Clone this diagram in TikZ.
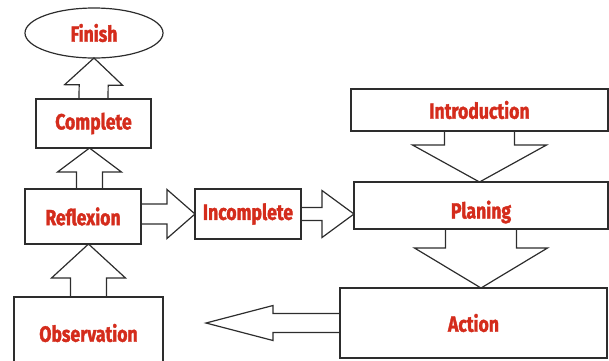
\documentclass[tikz,border=0pt]{standalone}
\usepackage{fontspec}
\newfontfamily\flowfont[FakeStretch=0.8,BoldFeatures={FakeBold=1.6}]{Fira Sans}
\usetikzlibrary{shapes.geometric}
\usetikzlibrary{positioning}
\usetikzlibrary{calc}
\definecolor{labelred}{RGB}{212,44,28}
\definecolor{linegray}{RGB}{45,45,45}
\tikzset{every node/.style={inner sep=0pt, outer sep=0pt}}
\tikzset{stage/.style={rectangle, draw=linegray, line width=1.2pt, text=labelred, font=\flowfont\bfseries\fontsize{22}{22}\selectfont}}
\tikzset{arrowline/.style={draw=linegray, line width=1.2pt, line join=miter}}

% tail, tip, half shaft, half head, head length
\newcommand{\blockarrow}[5]{%
  \coordinate (ba-t) at (#1);
  \coordinate (ba-h) at (#2);
  \coordinate (ba-b) at ($(ba-h)!#5!(ba-t)$);
  \draw[arrowline] ($(ba-t)!#3!90:(ba-h)$) -- ($(ba-b)!#3!90:(ba-h)$) -- ($(ba-b)!#4!90:(ba-h)$) -- (ba-h)
    -- ($(ba-b)!#4!-90:(ba-h)$) -- ($(ba-b)!#3!-90:(ba-h)$) -- ($(ba-t)!#3!-90:(ba-h)$);
}

\begin{document}
\begin{tikzpicture}[x=1pt,y=-1pt]
    \useasboundingbox (0,0) rectangle (609,360);

    \node[stage,ellipse,minimum width=138pt,minimum height=50pt] (finish) at (94,33) {Finish};
    \node[stage,minimum width=115pt,minimum height=49pt] (complete) at (93.5,123.5) {Complete};
    \node[stage,minimum width=116pt,minimum height=55pt] (reflexion) at (83,216.5) {Reflexion};
    \node[stage,minimum width=106pt,minimum height=50pt] (incomplete) at (248,214) {Incomplete};
    \node[stage,minimum width=257pt,minimum height=42pt] (introduction) at (479.5,110) {Introduction};
    \node[stage,minimum width=254pt,minimum height=47pt,text height=30pt,text depth=4pt] (planing) at (481,205.5) {Planing};
    \node[stage,minimum width=267pt,minimum height=70pt] (action) at (473.5,323) {Action};
    \node[stage,minimum width=149pt,minimum height=72pt] (observation) at (88.5,333) {Observation};
    \coordinate (actiontip) at (206,323);

    \blockarrow{complete.north}{finish.south}{14.5pt}{29pt}{27pt}
    \blockarrow{[xshift=-4pt]complete.south |- reflexion.north}{[xshift=-4pt]complete.south}{13pt}{32pt}{24pt}
    \blockarrow{observation.north}{reflexion.south -| observation.north}{18pt}{37pt}{34pt}
    \blockarrow{reflexion.east |- incomplete.west}{incomplete.west}{10pt}{24.5pt}{28pt}
    \blockarrow{incomplete.east}{planing.west |- incomplete.east}{6.5pt}{23.5pt}{32pt}
    \blockarrow{introduction.south}{planing.north -| introduction.south}{35pt}{67pt}{37pt}
    \blockarrow{planing.south}{action.north -| planing.south}{35.5pt}{66.5pt}{40pt}
    \blockarrow{action.west}{actiontip}{9.5pt}{17.5pt}{67pt}

\end{tikzpicture}
\end{document}
